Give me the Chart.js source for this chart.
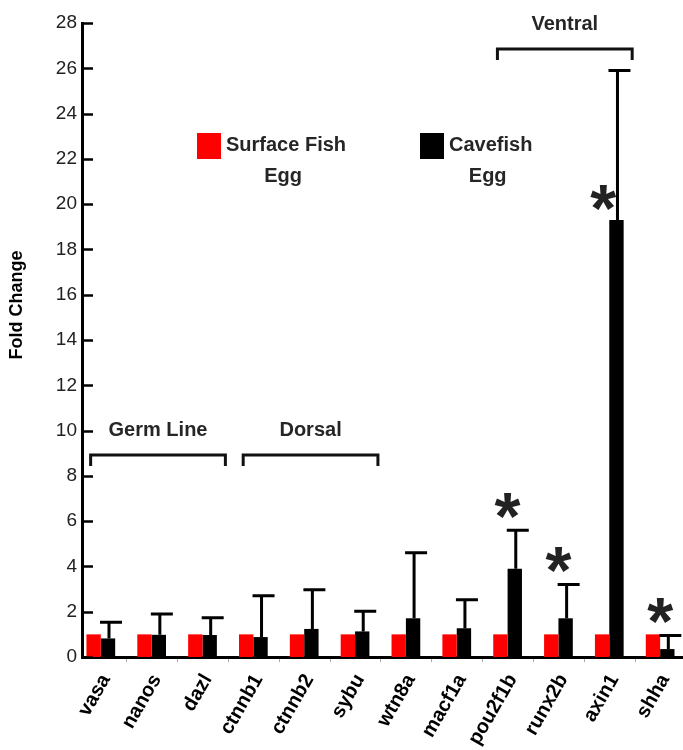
<!DOCTYPE html>
<html>
<head>
<meta charset="utf-8">
<script src="https://cdn.jsdelivr.net/npm/chart.js@4.4.1/dist/chart.umd.min.js"></script>
<style>
  html, body { margin: 0; padding: 0; background: #fff; }
</style>
</head>
<body>
<canvas id="chart" width="683" height="750"></canvas>
<script>
// Data
const genes = ['vasa', 'nanos', 'dazl', 'ctnnb1', 'ctnnb2', 'sybu', 'wtn8a', 'macf1a', 'pou2f1b', 'runx2b', 'axin1', 'shha']
const surfaceFish = [1, 1, 1, 1, 1, 1, 1, 1, 1, 1, 1, 1]
const caveFish = [0.82, 0.98, 0.97, 0.88, 1.24, 1.13, 1.71, 1.27, 3.9, 1.71, 19.3, 0.35]
const caveErrUpper = [1.53, 1.9, 1.73, 2.7, 2.97, 2.02, 4.6, 2.53, 5.6, 3.2, 25.9, 0.95]
const significant = [false, false, false, false, false, false, false, false, true, true, true, true]
const groupNames = ['Germ Line', 'Dorsal', 'Ventral']
const groupFirst = [0, 3, 8]
const groupLast = [2, 5, 10]
const seriesNames = [['Surface Fish', 'Egg'], ['Cavefish', 'Egg']]
const yMax = 28
const yStep = 2

const font = '"Liberation Sans", Arial, Helvetica, sans-serif'
const textColor = '#262626'

// error bars, stars, brackets, inward ticks, legend
const decorations = {
  id: 'decorations',
  afterDatasetsDraw(chart) {
    const ctx = chart.ctx
    const x = chart.scales.x
    const y = chart.scales.y
    const area = chart.chartArea
    const caveMeta = chart.getDatasetMeta(1)

    ctx.save()

    // error bars (upper only)
    ctx.strokeStyle = '#000'
    ctx.lineWidth = 3
    caveMeta.data.forEach((bar, i) => {
      const top = y.getPixelForValue(caveErrUpper[i])
      ctx.beginPath()
      ctx.moveTo(bar.x + 1, bar.y)
      ctx.lineTo(bar.x + 1, top)
      ctx.moveTo(bar.x - 8, top)
      ctx.lineTo(bar.x + 14, top)
      ctx.stroke()
    })

    // significance stars
    ctx.fillStyle = '#222'
    ctx.font = 'bold 100px ' + font
    const m = ctx.measureText('*')
    const inkW = m.actualBoundingBoxLeft + m.actualBoundingBoxRight
    const size = 100 * 26 / inkW
    ctx.font = 'bold ' + size + 'px ' + font
    const m2 = ctx.measureText('*')
    ctx.textAlign = 'left'
    ctx.textBaseline = 'alphabetic'
    significant.forEach((s, i) => {
      if (!s) return
      const cx = x.getPixelForValue(i)
      const big = caveErrUpper[i] - caveFish[i] > 5
      const cy = big ? y.getPixelForValue(caveFish[i]) - 22 : y.getPixelForValue(caveErrUpper[i]) - 25
      const sx = big ? cx - 6 : cx
      const w = m2.actualBoundingBoxLeft + m2.actualBoundingBoxRight
      const h = m2.actualBoundingBoxAscent + m2.actualBoundingBoxDescent
      ctx.fillText('*', sx - w / 2 + m2.actualBoundingBoxLeft, cy - h / 2 + m2.actualBoundingBoxAscent)
    })

    // group brackets
    const bracketLevel = [8.92, 8.92, 26.85]
    ctx.lineWidth = 3
    ctx.strokeStyle = '#111'
    ctx.fillStyle = textColor
    ctx.font = 'bold 20px ' + font
    ctx.textAlign = 'center'
    ctx.textBaseline = 'middle'
    groupNames.forEach((name, g) => {
      const x0 = x.getPixelForValue(groupFirst[g] - 0.2)
      const x1 = x.getPixelForValue(groupLast[g] + 0.45)
      const by = y.getPixelForValue(bracketLevel[g])
      ctx.beginPath()
      ctx.moveTo(x0, by + 11)
      ctx.lineTo(x0, by)
      ctx.lineTo(x1, by)
      ctx.lineTo(x1, by + 11)
      ctx.stroke()
      ctx.fillText(name, (x0 + x1) / 2, by - 25)
    })

    // inward y tick marks
    ctx.strokeStyle = '#000'
    ctx.lineWidth = 2.5
    for (let v = 0; v <= yMax; v += yStep) {
      const py = Math.round(y.getPixelForValue(v)) + 0.5
      ctx.beginPath()
      ctx.moveTo(area.left, py)
      ctx.lineTo(area.left + 11, py)
      ctx.stroke()
    }

    // faint category separators under the x axis
    ctx.strokeStyle = '#aaa'
    ctx.lineWidth = 1
    for (let i = 0; i < genes.length - 1; i++) {
      const px = Math.round(x.getPixelForValue(i + 0.5)) + 0.5
      ctx.beginPath()
      ctx.moveTo(px, area.bottom + 2)
      ctx.lineTo(px, area.bottom + 5)
      ctx.stroke()
    }

    // y axis title
    ctx.save()
    ctx.translate(17, 305)
    ctx.rotate(-Math.PI / 2)
    ctx.fillStyle = '#000'
    ctx.font = 'bold 18px ' + font
    ctx.textAlign = 'center'
    ctx.textBaseline = 'middle'
    ctx.fillText('Fold Change', 0, 0)
    ctx.restore()

    // legend
    const legendX = [197, 420]
    chart.data.datasets.forEach((ds, k) => {
      const lx = legendX[k]
      ctx.fillStyle = ds.backgroundColor
      ctx.fillRect(lx, 133, 24, 26)
      ctx.fillStyle = textColor
      ctx.font = 'bold 20px ' + font
      ctx.textBaseline = 'middle'
      ctx.textAlign = 'left'
      const w = ctx.measureText(seriesNames[k][0]).width
      ctx.fillText(seriesNames[k][0], lx + 29, 145)
      ctx.textAlign = 'center'
      ctx.fillText(seriesNames[k][1], lx + 29 + w / 2 - 3, 176)
    })

    ctx.restore()
  }
}

new Chart(document.getElementById('chart'), {
  type: 'bar',
  data: {
    datasets: [
      {
        label: seriesNames[0].join(' '),
        data: surfaceFish.map((v, i) => ({ x: i, y: v })),
        backgroundColor: '#ff0000',
        borderWidth: 0
      },
      {
        label: seriesNames[1].join(' '),
        data: caveFish.map((v, i) => ({ x: i, y: v })),
        backgroundColor: '#000000',
        borderWidth: 0
      }
    ]
  },
  options: {
    responsive: false,
    animation: false,
    devicePixelRatio: 1,
    categoryPercentage: 0.565,
    barPercentage: 1.0,
    layout: { padding: { top: 23, right: 1, left: 0, bottom: 0 } },
    scales: {
      x: {
        type: 'linear',
        offset: false,
        min: -0.37,
        max: 11.43,
        afterFit: (s) => {
          s.height = 93
          s.paddingLeft = 0
          s.paddingRight = 0
        },
        grid: { display: false, drawTicks: false },
        border: { display: true, color: '#000', width: 3 },
        ticks: {
          stepSize: 1,
          includeBounds: false,
          autoSkip: false,
          minRotation: 60,
          maxRotation: 60,
          padding: 13,
          labelOffset: 5,
          color: '#000',
          font: { family: font, size: 20, weight: 'bold' },
          callback: (v) => genes[v] ?? ''
        }
      },
      y: {
        min: 0,
        max: yMax,
        afterFit: (s) => { s.width = 82 },
        grid: { display: false, drawTicks: false },
        border: { display: true, color: '#000', width: 3 },
        ticks: {
          stepSize: yStep,
          padding: 5,
          color: '#222',
          font: { family: font, size: 19 }
        }
      }
    },
    plugins: {
      legend: { display: false },
      tooltip: { enabled: false }
    }
  },
  plugins: [decorations]
})
</script>
</body>
</html>
